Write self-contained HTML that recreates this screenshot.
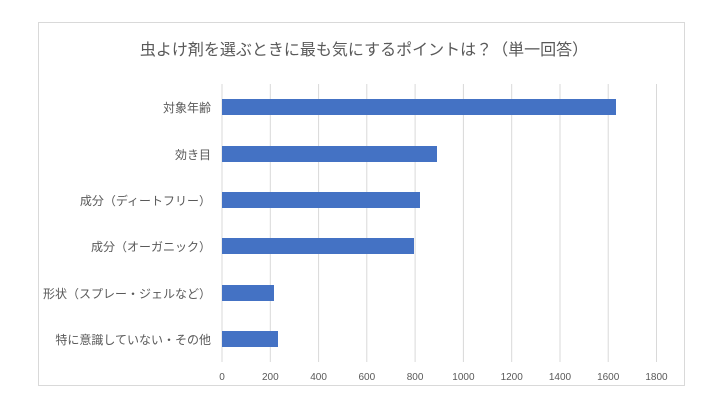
<!DOCTYPE html>
<html><head><meta charset="utf-8"><style>
body{margin:0;background:#fff;}
svg text{font-family:"Liberation Sans","Noto Sans CJK JP",sans-serif;fill:#595959;}
</style></head><body>
<svg width="720" height="404" viewBox="0 0 720 404" xmlns="http://www.w3.org/2000/svg">
<rect x="0" y="0" width="720" height="404" fill="#fff"/>
<rect x="38.5" y="22.5" width="646" height="363" fill="#fff" stroke="#d9d9d9" stroke-width="1"/>
<text x="364" y="55" font-size="16" text-anchor="middle">虫よけ剤を選ぶときに最も気にするポイントは？（単一回答）</text>
<g stroke="#d9d9d9" stroke-width="1">
<line x1="222" y1="84" x2="222" y2="362"/>
<line x1="270.3" y1="84" x2="270.3" y2="362"/>
<line x1="318.6" y1="84" x2="318.6" y2="362"/>
<line x1="366.8" y1="84" x2="366.8" y2="362"/>
<line x1="415.1" y1="84" x2="415.1" y2="362"/>
<line x1="463.4" y1="84" x2="463.4" y2="362"/>
<line x1="511.7" y1="84" x2="511.7" y2="362"/>
<line x1="560" y1="84" x2="560" y2="362"/>
<line x1="608.2" y1="84" x2="608.2" y2="362"/>
<line x1="656.5" y1="84" x2="656.5" y2="362"/>
</g>
<g fill="#4472c4">
<rect x="222" y="99" width="394" height="16"/>
<rect x="222" y="146" width="215" height="16"/>
<rect x="222" y="192" width="198" height="16"/>
<rect x="222" y="238" width="192" height="16"/>
<rect x="222" y="285" width="52" height="16"/>
<rect x="222" y="331" width="56" height="16"/>
</g>
<g font-size="12" text-anchor="end">
<text x="211" y="112">対象年齢</text>
<text x="211" y="159">効き目</text>
<text x="211" y="205">成分（ディートフリー）</text>
<text x="211" y="251">成分（オーガニック）</text>
<text x="211" y="298">形状（スプレー・ジェルなど）</text>
<text x="211" y="344">特に意識していない・その他</text>
</g>
<g font-size="10" text-anchor="middle">
<text x="222" y="380">0</text>
<text x="270.3" y="380">200</text>
<text x="318.6" y="380">400</text>
<text x="366.8" y="380">600</text>
<text x="415.1" y="380">800</text>
<text x="463.4" y="380">1000</text>
<text x="511.7" y="380">1200</text>
<text x="560" y="380">1400</text>
<text x="608.2" y="380">1600</text>
<text x="656.5" y="380">1800</text>
</g>
</svg>
</body></html>
